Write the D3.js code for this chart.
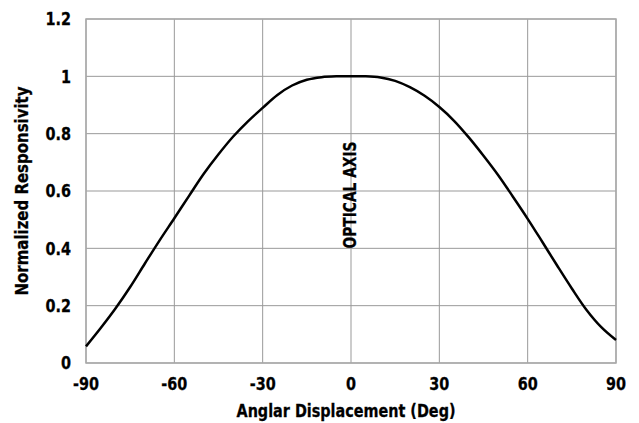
<!DOCTYPE html>
<html>
<head>
<meta charset="utf-8">
<script src="https://cdn.jsdelivr.net/npm/d3@7"></script>
<style>
  body { margin: 0; background: #fff; }
  text { font-family: "DejaVu Sans", sans-serif; font-weight: bold; fill: #000; stroke: #000; stroke-width: 0.3px; }
</style>
</head>
<body>
<div id="chart"></div>
<script>
  // angle (deg) and normalized responsivity
  const angles = [-90, -85, -80, -75, -70, -65, -60, -55, -50, -45, -40, -35, -30, -25, -20, -15, -10, -5, 0,
    5, 10, 15, 20, 25, 30, 35, 40, 45, 50, 55, 60, 65, 70, 75, 80, 85, 90];
  const responsivity = [0.058, 0.122, 0.19, 0.265, 0.347, 0.428, 0.505, 0.583, 0.66, 0.728, 0.79, 0.843, 0.89, 0.935, 0.968, 0.988, 0.997, 1.0, 1.0,
    1.0, 0.996, 0.984, 0.962, 0.932, 0.893, 0.845, 0.787, 0.723, 0.655, 0.58, 0.503, 0.422, 0.34, 0.26, 0.185, 0.125, 0.08];
  const xTicks = [-90, -60, -30, 0, 30, 60, 90];
  const yTicks = [0, 0.2, 0.4, 0.6, 0.8, 1, 1.2];

  const W = 639, H = 423;
  const margin = { top: 19, right: 23, bottom: 60, left: 86 };
  const width = W - margin.left - margin.right;
  const height = H - margin.top - margin.bottom;
  const squeeze = 0.8; // condensed look

  const svg = d3.select("#chart").append("svg")
    .attr("width", W).attr("height", H)
    .append("g")
    .attr("transform", `translate(${margin.left}, ${margin.top})`);

  const x = d3.scaleLinear().domain([-90, 90]).range([0, width]);
  const y = d3.scaleLinear().domain([0, 1.2]).range([height, 0]);

  // grid
  svg.append("g").selectAll("line").data(xTicks).join("line")
    .attr("x1", d => x(d)).attr("x2", d => x(d))
    .attr("y1", 0).attr("y2", height)
    .style("stroke", "#999").style("stroke-width", 1);
  svg.append("g").selectAll("line").data(yTicks).join("line")
    .attr("x1", 0).attr("x2", width)
    .attr("y1", d => y(d)).attr("y2", d => y(d))
    .style("stroke", "#999").style("stroke-width", 1);
  svg.append("rect")
    .attr("width", width).attr("height", height)
    .style("fill", "none").style("stroke", "#aaa").style("stroke-width", 1.5);

  // tick labels
  svg.append("g").selectAll("text").data(yTicks).join("text")
    .attr("transform", d => `translate(-15, ${y(d)}) scale(${squeeze}, 1)`)
    .attr("dy", "0.35em")
    .attr("text-anchor", "end")
    .style("font-size", "18px")
    .text(d => d3.format("")(d));
  svg.append("g").selectAll("text").data(xTicks).join("text")
    .attr("transform", d => `translate(${x(d)}, ${height + 27}) scale(${squeeze}, 1)`)
    .attr("text-anchor", "middle")
    .style("font-size", "18px")
    .text(d => d);

  // axis titles
  svg.append("text")
    .attr("x", width / 2 - 5).attr("y", height + 54)
    .attr("text-anchor", "middle")
    .attr("textLength", 219).attr("lengthAdjust", "spacingAndGlyphs")
    .style("font-size", "18px")
    .text("Anglar Displacement (Deg)");
  svg.append("text")
    .attr("transform", `translate(${28 - margin.left}, ${height / 2}) rotate(-90)`)
    .attr("text-anchor", "middle")
    .attr("textLength", 209).attr("lengthAdjust", "spacingAndGlyphs")
    .style("font-size", "18px")
    .text("Normalized Responsivity");

  // optical axis label
  svg.append("text")
    .attr("transform", `translate(${x(0) + 5}, ${y(0.586)}) rotate(-90)`)
    .attr("text-anchor", "middle")
    .attr("textLength", 107).attr("lengthAdjust", "spacingAndGlyphs")
    .style("font-size", "18px")
    .text("OPTICAL AXIS");

  // curve
  const pts = angles.map((a, i) => [a, responsivity[i]]);
  svg.append("path")
    .datum(pts)
    .attr("d", d3.line().x(d => x(d[0])).y(d => y(d[1])).curve(d3.curveCatmullRom))
    .style("fill", "none").style("stroke", "#000").style("stroke-width", 2.5);
</script>
</body>
</html>
